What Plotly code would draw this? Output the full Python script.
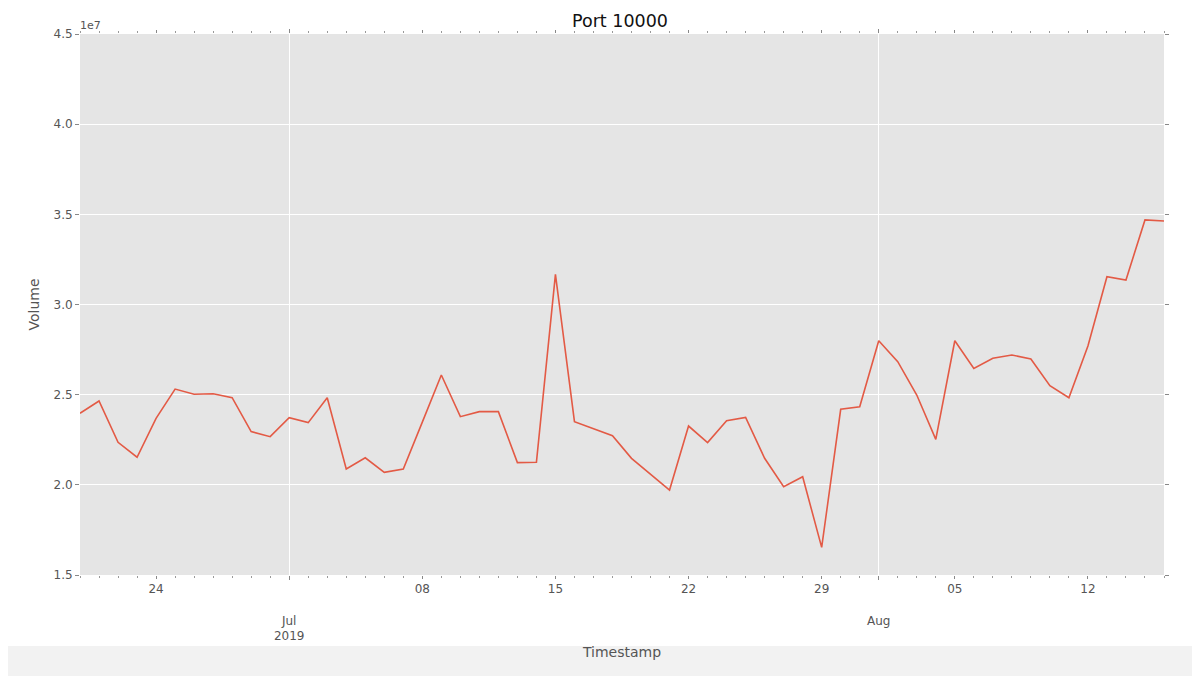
import pandas as pd
import plotly.graph_objects as go

# ---- data ----
start_date = "2019-06-20"
end_date = "2019-08-16"
volume = [
    23970000, 24650000, 22360000, 21530000, 23690000, 25310000, 25020000, 25050000,
    24830000, 22950000, 22670000, 23720000, 23450000, 24830000, 20880000, 21500000,
    20690000, 20880000, 23480000, 26090000, 23780000, 24060000, 24060000, 21230000,
    21250000, 31670000, 23500000, 23110000, 22720000, 21470000, 20580000, 19710000,
    23260000, 22340000, 23560000, 23740000, 21470000, 19900000, 20450000, 16530000,
    24190000, 24330000, 27990000, 26830000, 24980000, 22520000, 27990000, 26460000,
    27020000, 27200000, 26980000, 25500000, 24830000, 27700000, 31540000, 31360000,
    34690000, 34630000,
]
monday_ticks = ["2019-06-24", "2019-07-08", "2019-07-15", "2019-07-22",
                "2019-07-29", "2019-08-05", "2019-08-12"]
monday_labels = ["24", "08", "15", "22", "29", "05", "12"]
month_ticks = ["2019-07-01", "2019-08-01"]
month_labels = ["Jul<br>2019", "Aug"]
y_ticks = [1.5e7, 2.0e7, 2.5e7, 3.0e7, 3.5e7, 4.0e7, 4.5e7]
y_labels = ["1.5", "2.0", "2.5", "3.0", "3.5", "4.0", "4.5"]

dates = pd.date_range(start_date, end_date, freq="D")

FONT = "DejaVu Sans"
GREY = "#555555"
W, H = 1192, 668   # page body has an 8px margin
L, R, T, B = 72, 36, 26, 101
PW, PH = W - L - R, H - T - B

fig = go.Figure()
fig.add_trace(go.Scatter(x=dates, y=volume, mode="lines",
                         line=dict(color="#E35A45", width=1.6),
                         showlegend=False))
# invisible copy on overlay axis carrying the month gridlines
fig.add_trace(go.Scatter(x=dates, y=volume, mode="lines", xaxis="x2",
                         line=dict(color="rgba(0,0,0,0)", width=0),
                         hoverinfo="skip", showlegend=False))

tickvals = monday_ticks + month_ticks
ticktext = monday_labels + ["<br><br>" + m for m in month_labels]

fig.update_layout(
    width=W, height=H,
    margin=dict(l=L, r=R, t=T, b=B, autoexpand=False),
    paper_bgcolor="white",
    plot_bgcolor="#E5E5E5",
    font=dict(family=FONT, color=GREY, size=12),
    title=dict(text="Port 10000", x=612 / W, xanchor="center", y=1 - 13 / H,
               yanchor="middle", automargin=False,
               font=dict(size=17.5, color="#111111")),
    xaxis=dict(
        type="date", range=[start_date, end_date], automargin=False,
        tickmode="array", tickvals=tickvals, ticktext=ticktext,
        ticks="outside", ticklen=3, tickcolor="#888888", tickwidth=1,
        showgrid=False, zeroline=False, showline=False, mirror="ticks",
        tickfont=dict(size=12, color=GREY),
        minor=dict(dtick=86400000, tick0=start_date, ticks="outside",
                   ticklen=2, tickcolor="#999999", showgrid=False),
        title=dict(text="Timestamp", font=dict(size=14, color=GREY), standoff=4),
    ),
    xaxis2=dict(
        type="date", overlaying="x", matches="x", anchor="y", side="bottom",
        automargin=False,
        tickmode="array", tickvals=month_ticks, ticktext=["", ""],
        showticklabels=False, ticks="outside", ticklen=4, tickcolor="#888888",
        showgrid=True, gridcolor="white", gridwidth=1, zeroline=False,
        mirror="ticks",
    ),
    yaxis=dict(
        range=[1.5e7, 4.5e7], tickmode="array", tickvals=y_ticks, ticktext=y_labels,
        automargin=False,
        ticks="outside", ticklen=4, tickcolor="#888888",
        showgrid=True, gridcolor="white", gridwidth=1, zeroline=False,
        mirror="ticks", tickfont=dict(size=12, color=GREY),
        title=dict(text="Volume", font=dict(size=14, color=GREY), standoff=10),
    ),
    annotations=[dict(text="1e7", xref="paper", yref="paper", x=0, y=1,
                      xanchor="left", yanchor="bottom", showarrow=False,
                      font=dict(size=11, color=GREY), xshift=-2)],
    shapes=[dict(type="rect", xref="paper", yref="paper", layer="below",
                 x0=-L / PW, x1=(W - L) / PW, y0=-B / PH, y1=-(B - 30) / PH,
                 fillcolor="#F2F2F2", line=dict(width=0))],
)

fig.write_html("out.html")
